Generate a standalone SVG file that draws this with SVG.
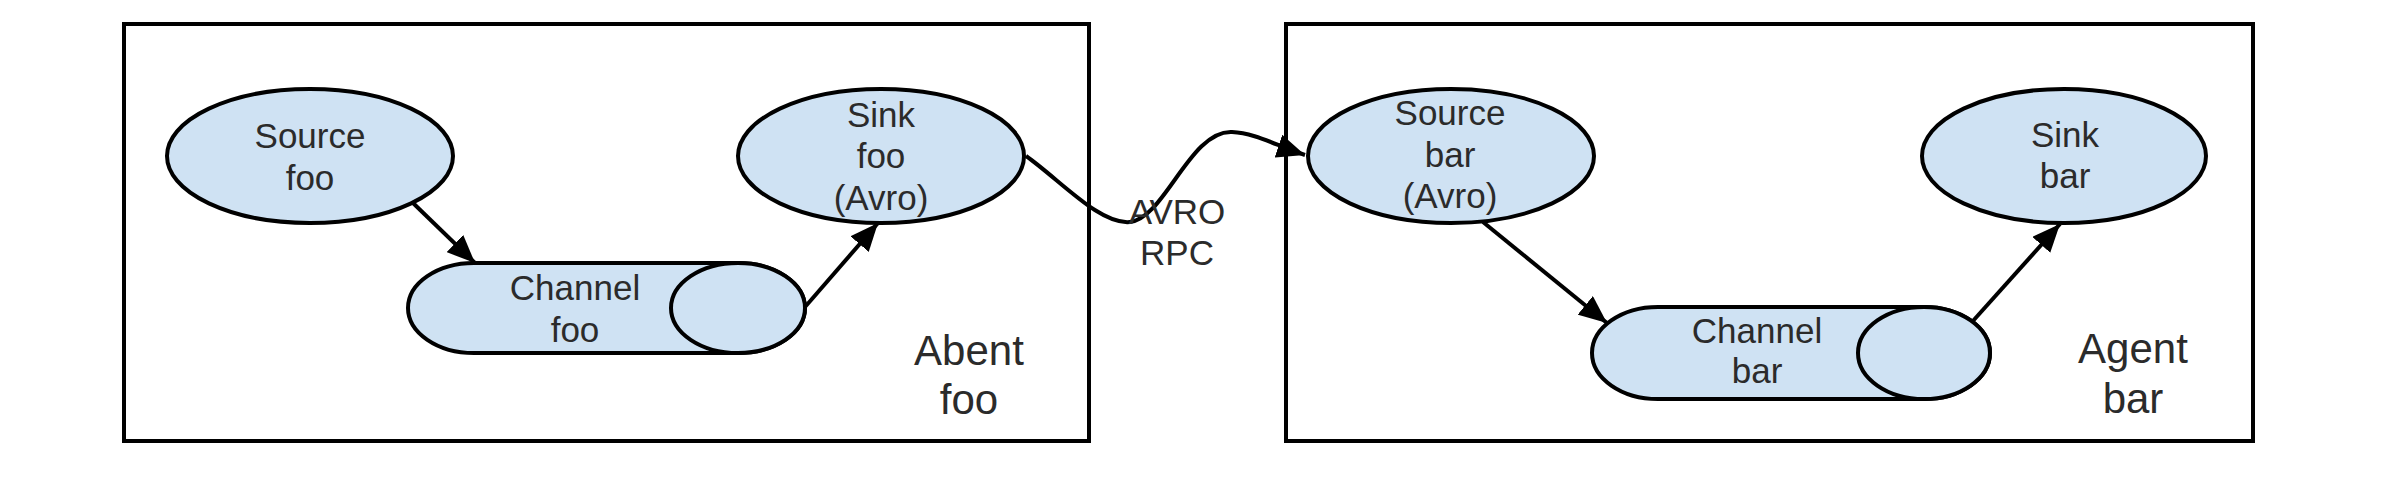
<svg xmlns="http://www.w3.org/2000/svg" width="2405" height="490" viewBox="0 0 2405 490">
<style>
.box{fill:none;stroke:#000;stroke-width:4}
.shape{fill:#cfe2f3;stroke:#000;stroke-width:4}
.lbl{font-family:"Liberation Sans",Arial,sans-serif;font-size:35px;fill:#2b2b2b;text-anchor:middle}
.big{font-size:42px}
.edge{fill:none;stroke:#000;stroke-width:4}
</style>
<defs>
<marker id="ah" markerUnits="userSpaceOnUse" markerWidth="30" markerHeight="24" refX="28" refY="12" orient="auto">
<path d="M0,0 L28,12 L0,24 Z" fill="#000"/>
</marker>
</defs>
<rect width="2405" height="490" fill="#fff"/>
<g id="agent-foo">
<rect class="box" x="124" y="24" width="965" height="417"/>
<text class="lbl big" x="969" y="365">Abent</text>
<text class="lbl big" x="969" y="414">foo</text>
</g>
<g id="agent-bar">
<rect class="box" x="1286" y="24" width="967" height="417"/>
<text class="lbl big" x="2133" y="363">Agent</text>
<text class="lbl big" x="2133" y="413">bar</text>
</g>
<g id="source-foo">
<ellipse class="shape" cx="310" cy="156" rx="143" ry="67"/>
<text class="lbl" x="310" y="148">Source</text>
<text class="lbl" x="310" y="190">foo</text>
</g>
<g id="sink-foo">
<ellipse class="shape" cx="881" cy="156" rx="143" ry="67"/>
<text class="lbl" x="881" y="127">Sink</text>
<text class="lbl" x="881" y="168">foo</text>
<text class="lbl" x="881" y="210">(Avro)</text>
</g>
<g id="channel-foo">
<path class="shape" d="M474,263 L738,263 A67,45 0 0 1 738,353 L474,353 A66,45 0 0 1 474,263 Z"/>
<ellipse class="shape" cx="738" cy="308" rx="67" ry="45"/>
<text class="lbl" x="575" y="300">Channel</text>
<text class="lbl" x="575" y="342">foo</text>
</g>
<g id="source-bar">
<ellipse class="shape" cx="1451" cy="156" rx="143" ry="67"/>
<text class="lbl" x="1450" y="125">Source</text>
<text class="lbl" x="1450" y="167">bar</text>
<text class="lbl" x="1450" y="208">(Avro)</text>
</g>
<g id="sink-bar">
<ellipse class="shape" cx="2064" cy="156" rx="142" ry="67"/>
<text class="lbl" x="2065" y="147">Sink</text>
<text class="lbl" x="2065" y="188">bar</text>
</g>
<g id="channel-bar">
<path class="shape" d="M1658,307 L1924,307 A66,46 0 0 1 1924,399 L1658,399 A66,46 0 0 1 1658,307 Z"/>
<ellipse class="shape" cx="1924" cy="353" rx="66" ry="46"/>
<text class="lbl" x="1757" y="343">Channel</text>
<text class="lbl" x="1757" y="383">bar</text>
</g>
<g id="connectors">
<line class="edge" x1="413" y1="203" x2="475" y2="263" marker-end="url(#ah)"/>
<line class="edge" x1="805" y1="307" x2="878" y2="223" marker-end="url(#ah)"/>
<path class="edge" d="M1026,156 C1060,180 1100,225 1130,222 C1165,218 1190,130 1232,132 C1255,133 1275,145 1305,155" marker-end="url(#ah)"/>
<line class="edge" x1="1483" y1="222" x2="1607" y2="323" marker-end="url(#ah)"/>
<line class="edge" x1="1972" y1="322" x2="2060" y2="224" marker-end="url(#ah)"/>
<text class="lbl" x="1177" y="224">AVRO</text>
<text class="lbl" x="1177" y="265">RPC</text>
</g>
</svg>
